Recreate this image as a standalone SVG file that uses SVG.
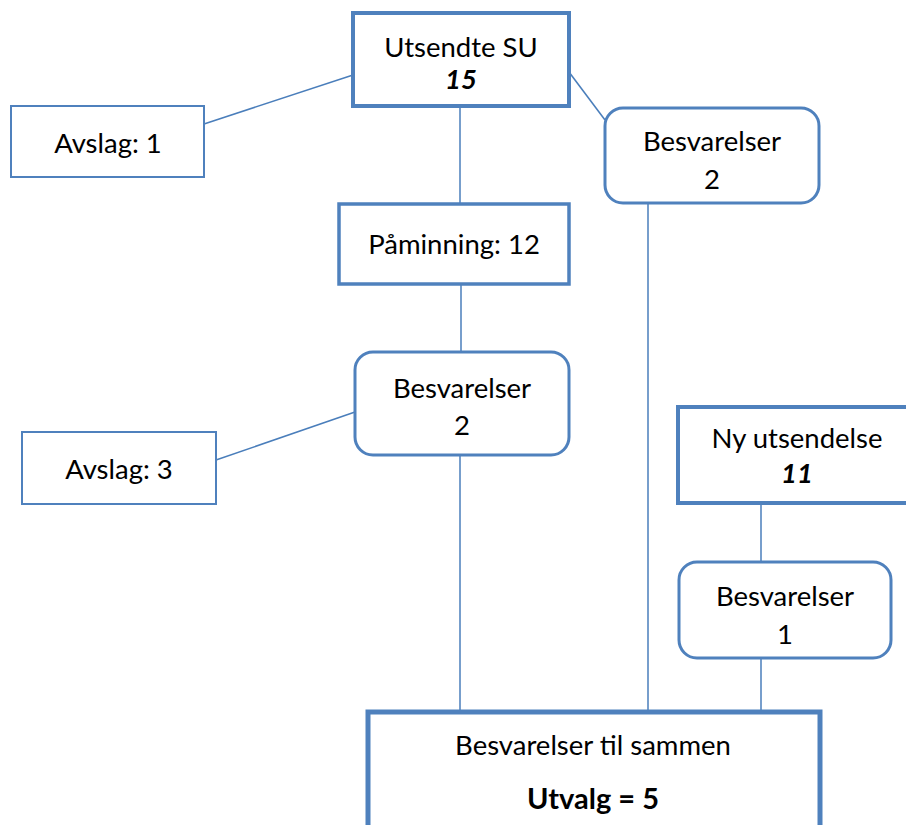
<svg xmlns="http://www.w3.org/2000/svg" width="906" height="825" viewBox="0 0 906 825">
<style>
.b{fill:#fff;stroke:#4f81bd}
.t{font-family:Lato,"Liberation Sans",sans-serif;font-size:27.5px;fill:#000;text-anchor:middle}
.bi{font-weight:bold;font-style:italic}
.bd{font-weight:bold;font-size:29px}
.c line{stroke:#4a7ebb;stroke-width:1.5}
</style>
<rect width="906" height="825" fill="#fff"/>
<g class="c">
<line x1="353" y1="75" x2="204" y2="124"/>
<line x1="569" y1="72" x2="605" y2="120"/>
<line x1="460" y1="107" x2="460" y2="204"/>
<line x1="461" y1="285" x2="461" y2="352"/>
<line x1="355" y1="412" x2="216" y2="460"/>
<line x1="460" y1="455" x2="460" y2="711"/>
<line x1="648" y1="200" x2="648" y2="711"/>
<line x1="761" y1="503" x2="761" y2="562"/>
<line x1="761" y1="658" x2="761" y2="711"/>
</g>
<g id="utsendte">
<rect class="b" x="353" y="13" width="216" height="93" stroke-width="4"/>
<text class="t" x="461" y="57">Utsendte SU</text>
<text class="t bi" x="461" y="89">15</text>
</g>
<g id="avslag1">
<rect class="b" x="11" y="106" width="193" height="71" stroke-width="2"/>
<text class="t" x="108" y="153">Avslag: 1</text>
</g>
<g id="besv-top">
<rect class="b" x="605" y="108" width="214" height="95" rx="18" stroke-width="3"/>
<text class="t" x="712" y="151">Besvarelser</text>
<text class="t" x="712" y="189">2</text>
</g>
<g id="paminning">
<rect class="b" x="339" y="204" width="230" height="80" stroke-width="3.5"/>
<text class="t" x="454" y="254">Påminning: 12</text>
</g>
<g id="besv-mid">
<rect class="b" x="355" y="352" width="214" height="103" rx="18" stroke-width="3"/>
<text class="t" x="462" y="398">Besvarelser</text>
<text class="t" x="462" y="435">2</text>
</g>
<g id="avslag3">
<rect class="b" x="22" y="432" width="194" height="72" stroke-width="2"/>
<text class="t" x="119" y="479">Avslag: 3</text>
</g>
<g id="ny">
<rect class="b" x="678" y="407" width="240" height="96" stroke-width="4"/>
<text class="t" x="797" y="448">Ny utsendelse</text>
<text class="t bi" x="797" y="483">11</text>
</g>
<g id="besv1">
<rect class="b" x="679" y="562" width="212" height="96" rx="18" stroke-width="3"/>
<text class="t" x="785" y="606">Besvarelser</text>
<text class="t" x="785" y="644">1</text>
</g>
<g id="sum">
<rect class="b" x="368" y="712" width="452" height="130" stroke-width="5"/>
<text class="t" x="593" y="755">Besvarelser til sammen</text>
<text class="t bd" x="593" y="809">Utvalg = 5</text>
</g>
</svg>
